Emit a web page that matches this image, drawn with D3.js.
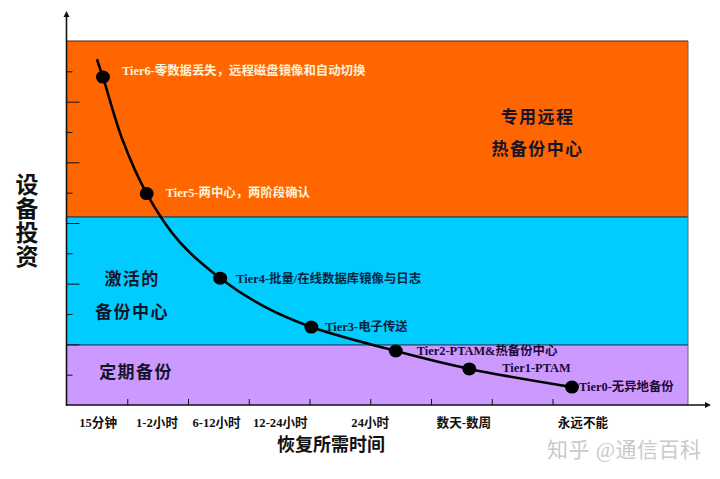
<!DOCTYPE html>
<html><head><meta charset="utf-8">
<script src="https://cdnjs.cloudflare.com/ajax/libs/d3/7.8.5/d3.min.js"></script>
<style>
html,body{margin:0;padding:0;background:#fff}
svg{display:block}
text{font-family:"Liberation Serif","Noto Sans CJK SC",serif;font-weight:700}
</style></head><body>
<svg id="c" width="720" height="479"></svg>
<script>
// Values in axis-tick units
const tierNames = ["Tier6-零数据丢失，远程磁盘镜像和自动切换","Tier5-两中心，两阶段确认","Tier4-批量/在线数据库镜像与日志","Tier3-电子传送","Tier2-PTAM&热备份中心","Tier1-PTAM","Tier0-无异地备份"];
const tierX = [0.60,1.32,2.53,4.03,5.42,6.63,8.32];
const tierY = [10.81,6.97,4.18,2.57,1.78,1.19,0.59];
const curveX = [0.50,0.60,0.92,1.32,1.85,2.53,3.25,4.03,5.42,6.63,8.32];
const curveY = [11.40,10.81,8.75,6.97,5.40,4.18,3.25,2.57,1.78,1.19,0.59];
const tierColors = ["#fff2d8","#fff2d8","#06263c","#06263c","#1c0a38","#1c0a38","#1c0a38"];

const xTicks = [1,2,3,4,5,6,7,8];
const yTicks = [1,2,3,4,5,6,7,8,9,10,11];
const timeLabels = ["15分钟","1-2小时","6-12小时","12-24小时","24小时","数天-数周","永远不能"];
const timeAt = [0.52,1.49,2.47,3.52,5.0,6.54,8.5];

const zoneBands = [[6.2,12],[1.98,6.2],[0,1.98]];
const zoneColors = ["#ff6600","#00ccff","#cc99ff"];
const zoneLines = [["专用远程","热备份中心"],["激活的","备份中心"],["定期备份"]];

const x=d3.scaleLinear().domain([0,10.23]).range([66.5,688]);
const y=d3.scaleLinear().domain([0,12]).range([405,41]);
const svg=d3.select("#c");

// zones
svg.selectAll("rect.z").data(zoneBands).join("rect").attr("class","z")
 .attr("x",x(0)).attr("width",x(10.23)-x(0))
 .attr("y",d=>y(d[1])).attr("height",d=>y(d[0])-y(d[1]))
 .attr("fill",(d,i)=>zoneColors[i]);
svg.append("line").attr("x1",x(0)).attr("x2",x(10.23)).attr("y1",y(12)).attr("y2",y(12)).attr("stroke","#5a1a10").attr("stroke-width",1);
svg.selectAll("line.b").data([6.2,1.98]).join("line").attr("class","b")
 .attr("x1",x(0)).attr("x2",x(10.23)).attr("y1",d=>y(d)).attr("y2",d=>y(d)).attr("stroke","#0b2540").attr("stroke-width",1);
svg.append("line").attr("x1",x(10.23)).attr("x2",x(10.23)).attr("y1",y(12)).attr("y2",y(0)).attr("stroke","#666").attr("stroke-width",1);

// axes
const gy=svg.append("g").attr("transform",`translate(${x(0)},0)`)
 .call(d3.axisRight(y).tickValues(yTicks).tickFormat("").tickSizeOuter(0));
gy.select(".domain").remove();
gy.selectAll(".tick line").attr("x2",d=>d%2?6:13).attr("stroke","#111").attr("stroke-width",1);
const gx=svg.append("g").attr("transform",`translate(0,${y(0)})`)
 .call(d3.axisTop(x).tickValues(xTicks).tickFormat("").tickSize(6).tickSizeOuter(0));
gx.select(".domain").remove();
gx.selectAll(".tick line").attr("stroke","#111").attr("stroke-width",1);

svg.append("line").attr("x1",x(0)).attr("x2",x(0)).attr("y1",16).attr("y2",y(0)+1).attr("stroke","#111").attr("stroke-width",1.6);
svg.append("line").attr("x1",x(0)).attr("x2",706).attr("y1",y(0)).attr("y2",y(0)).attr("stroke","#111").attr("stroke-width",1.6);
svg.append("path").attr("d",d3.line()([[x(0),11],[x(0)-3,17],[x(0)+3,17]])+"Z").attr("fill","#111");
svg.append("path").attr("d",d3.line()([[711,y(0)],[705,y(0)-3],[705,y(0)+3]])+"Z").attr("fill","#111");

// curve
const pts=curveX.map((v,i)=>[x(v),y(curveY[i])]);
svg.append("path").attr("d",d3.line().curve(d3.curveCatmullRom.alpha(0.5))(pts))
 .attr("fill","none").attr("stroke","#000").attr("stroke-width",2.6);
svg.selectAll("ellipse").data(tierX).join("ellipse")
 .attr("cx",d=>x(d)).attr("cy",(d,i)=>y(tierY[i])).attr("rx",7).attr("ry",6.5).attr("fill","#000");

// tier labels
const labelDX = [19,19,16,14,21,33,7];
const labelDY = [-6,-1,1,0,0,-1,0];
svg.selectAll("text.t").data(tierNames).join("text").attr("class","t")
 .attr("x",(d,i)=>x(tierX[i])+labelDX[i]).attr("y",(d,i)=>y(tierY[i])+labelDY[i]+4)
 .attr("font-size",12.4).attr("fill",(d,i)=>tierColors[i]).text(d=>d);

// zone labels
const zx=[537.5,132,136], zy=[[117,149],[279,312],[372]];
zoneLines.forEach((ls,i)=>ls.forEach((s,j)=>{
 svg.append("text").attr("x",zx[i]).attr("y",zy[i][j]+6).attr("text-anchor","middle")
  .attr("font-size",17).attr("letter-spacing",1.4).attr("fill","#14142a").text(s);
}));

// time labels
svg.selectAll("text.x").data(timeLabels).join("text").attr("class","x")
 .attr("x",(d,i)=>x(timeAt[i])).attr("y",427).attr("text-anchor","middle")
 .attr("font-size",12.6).attr("fill","#111").text(d=>d);

// titles
svg.append("text").attr("x",331).attr("y",451).attr("text-anchor","middle").attr("font-size",18).attr("fill","#111").text("恢复所需时间");
["设","备","投","资"].forEach((c,i)=>svg.append("text").attr("x",27).attr("y",193+i*24).attr("text-anchor","middle").attr("font-size",23).attr("fill","#111").text(c));

// watermark
svg.append("text").attr("x",547).attr("y",457).attr("font-size",21).attr("letter-spacing",0.5).attr("fill","#c9c9c9").style("font-weight",400).text("知乎 @通信百科");
</script></body></html>
